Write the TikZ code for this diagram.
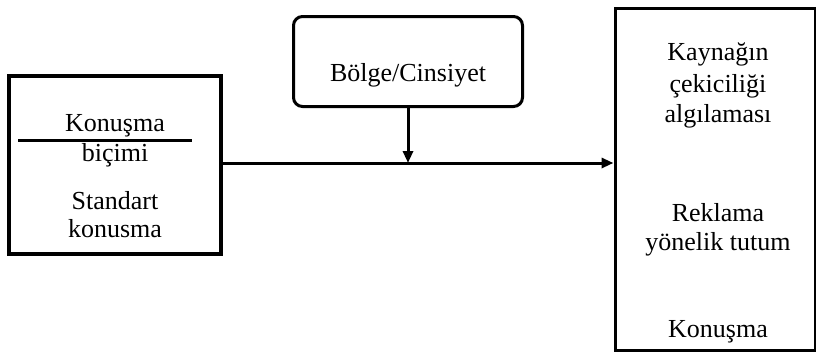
\documentclass[tikz,border=0pt]{standalone}
\usepackage{fontspec}
\setmainfont{Liberation Serif}
\usetikzlibrary{arrows.meta}
\begin{document}
\begin{tikzpicture}[x=1pt,y=-1pt,
  txt/.style={font=\fontsize{26}{30}\selectfont, anchor=base, inner sep=0pt},
  boxline/.style={draw=black, line width=3pt},
  conn/.style={draw=black, line width=3pt, -{Triangle[length=12pt,width=10pt]}}]
\useasboundingbox (0,0) rectangle (816,356);
% left box
\node[boxline, line width=4pt, minimum width=212pt, minimum height=178pt, inner sep=0pt] (left) at (115,165) {};
\draw[line width=3pt] (18,140) coordinate (l1) -- (192,140) coordinate (l2);
\node[txt] (t1) at (115,131) {Konuşma};
\node[txt] (t2) at (115,161) {biçimi};
\node[txt] (t3) at (115,209) {Standart};
\node[txt] (t4) at (115,237) {konusma};
% top box
\node[boxline, rounded corners=9pt, minimum width=229pt, minimum height=90pt, inner sep=0pt] (top) at (408,61.5) {};
\node[txt] (tb) at (408,81) {Bölge/Cinsiyet};
% right box
\node[boxline, minimum width=200pt, minimum height=342pt, inner sep=0pt] (right) at (715,179) {};
\node[txt] (r1) at (718,60) {Kaynağın};
\node[txt] (r2) at (718,92) {çekiciliği};
\node[txt] (r3) at (718,122) {algılaması};
\node[txt] (r4) at (718,221) {Reklama};
\node[txt] (r5) at (718,250) {yönelik tutum};
\node[txt] (r6) at (718,337) {Konuşma};
% connectors
\coordinate (m) at (408,163);
\draw[conn] (left.east |- m) -- (right.west |- m);
\draw[conn] (top.south) -- (m);
\end{tikzpicture}
\end{document}
